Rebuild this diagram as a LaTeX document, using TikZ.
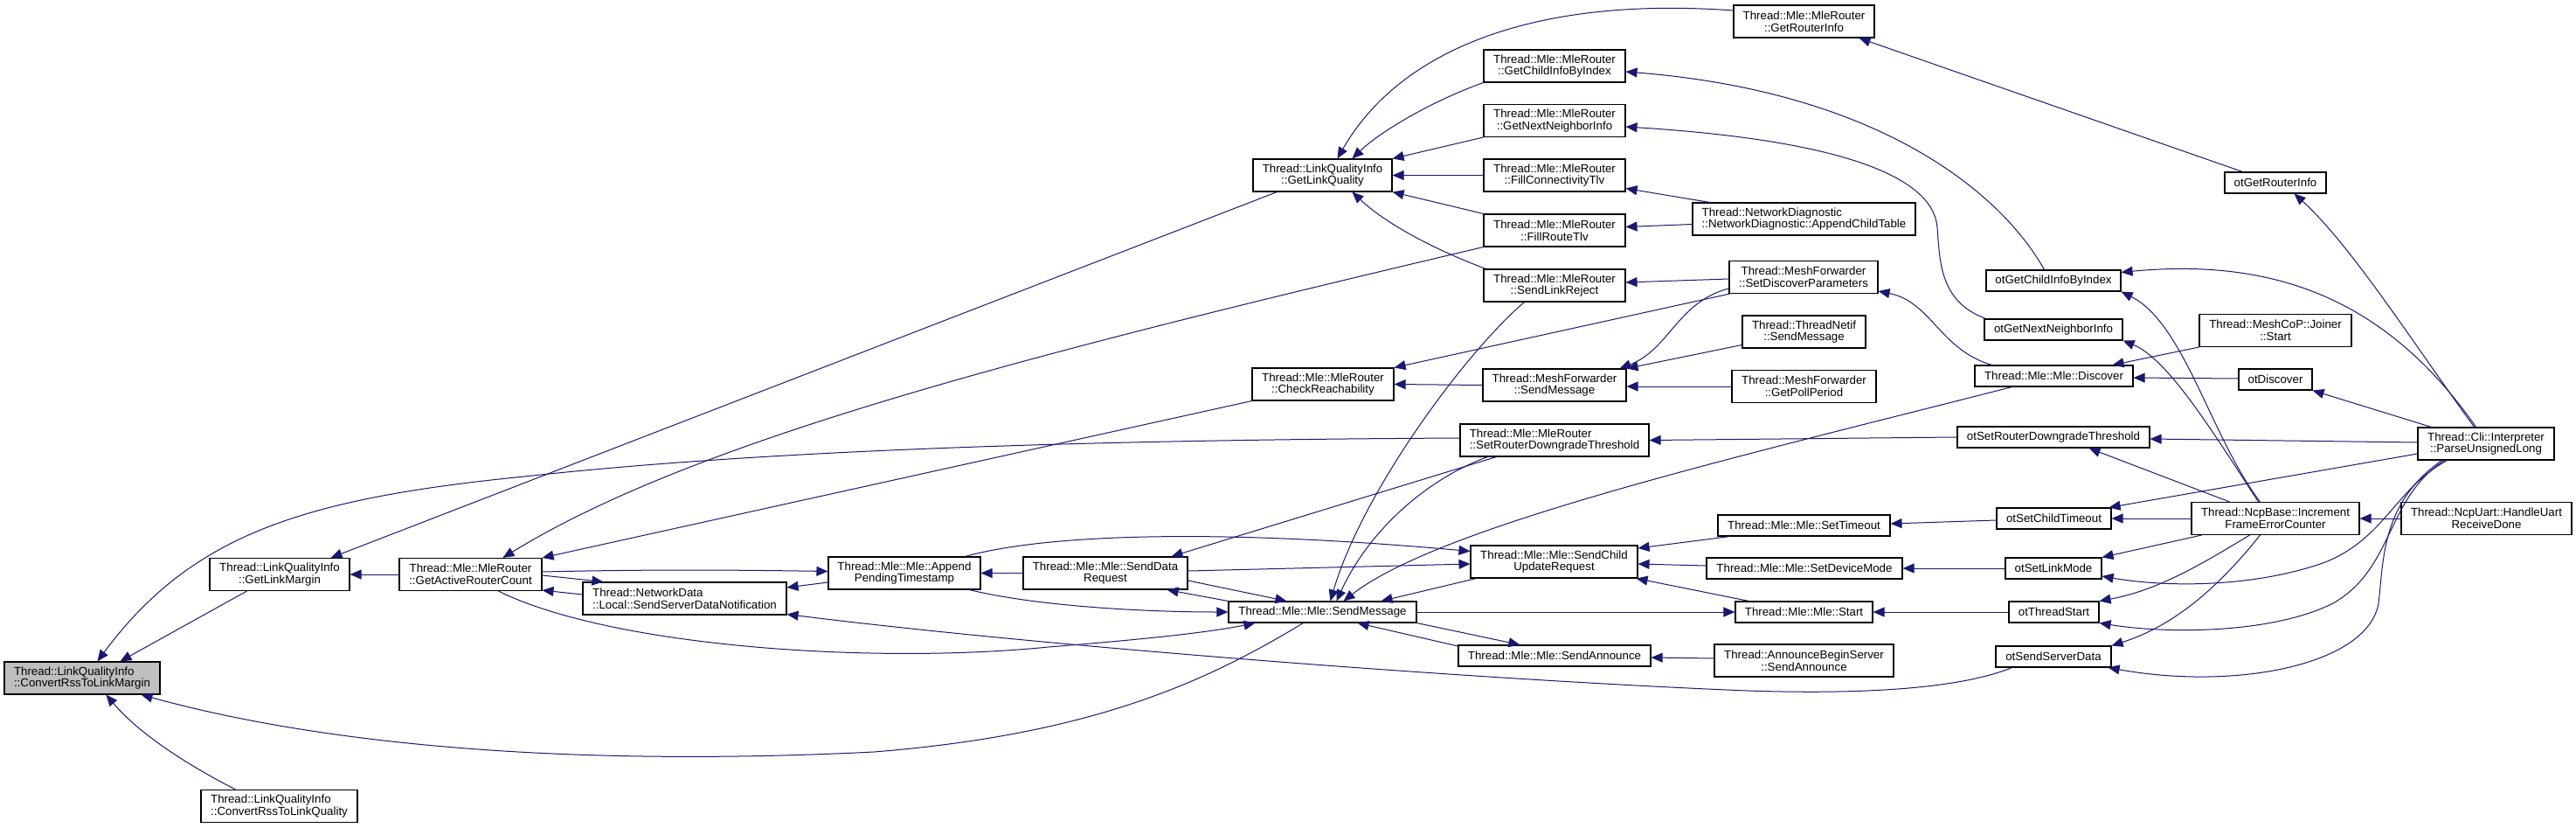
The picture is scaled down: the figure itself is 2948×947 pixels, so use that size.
\documentclass[tikz,border=0pt]{standalone}
\usepackage{fontspec}
\newfontfamily\dgf{Liberation Sans}
\usetikzlibrary{arrows.meta}
\definecolor{edgec}{RGB}{25,25,112}
\definecolor{rootgray}{RGB}{191,191,191}
\tikzset{
  box/.style={draw=black, line width=1.1pt, fill=white, inner sep=0pt,
    font={\dgf\fontsize{13.3pt}{13.6pt}\selectfont}, align=center},
  twol/.style={minimum height=37pt},
  onel/.style={minimum height=24pt},
  edge/.style={draw=edgec, line width=1pt, -{Triangle[length=13pt,width=11pt]}, fill=none}
}
\begin{document}
\begin{tikzpicture}[x=1pt,y=-1pt]
\fill[white] (0,0) rectangle (2948,947);
\path[use as bounding box] (0,0) rectangle (2948,947);

% nodes
\node[box,twol,minimum width=178pt,fill=rootgray,align=left] (conv) at (94,775.5) {Thread::LinkQualityInfo\\::ConvertRssToLinkMargin};
\node[box,twol,minimum width=160pt] (glm) at (320,657) {Thread::LinkQualityInfo\\::GetLinkMargin};
\node[box,twol,minimum width=179pt,align=left] (crq) at (319.5,922) {Thread::LinkQualityInfo\\::ConvertRssToLinkQuality};
\node[box,twol,minimum width=163pt] (garc) at (538.5,657) {Thread::Mle::MleRouter\\::GetActiveRouterCount};
\node[box,twol,minimum width=233pt,align=left] (ssdn) at (783.5,684.5) {Thread::NetworkData\\::Local::SendServerDataNotification};
\node[box,twol,minimum width=174pt] (apt) at (1035,655.5) {Thread::Mle::Mle::Append\\PendingTimestamp};
\node[box,twol,minimum width=188pt] (sdr) at (1265,655.5) {Thread::Mle::Mle::SendData\\Request};
\node[box,onel,minimum width=215pt] (msm) at (1513.5,700) {Thread::Mle::Mle::SendMessage};
\node[box,twol,minimum width=162pt] (chr) at (1514,439.5) {Thread::Mle::MleRouter\\::CheckReachability};
\node[box,twol,minimum width=159pt] (glq) at (1513.5,200.5) {Thread::LinkQualityInfo\\::GetLinkQuality};
\node[box,twol,minimum width=161pt] (gri) at (2064.5,24.5) {Thread::Mle::MleRouter\\::GetRouterInfo};
\node[box,twol,minimum width=162pt] (gcibi) at (1779,75.5) {Thread::Mle::MleRouter\\::GetChildInfoByIndex};
\node[box,twol,minimum width=162pt] (gnni) at (1779,138) {Thread::Mle::MleRouter\\::GetNextNeighborInfo};
\node[box,twol,minimum width=162pt] (fct) at (1779,200.5) {Thread::Mle::MleRouter\\::FillConnectivityTlv};
\node[box,twol,minimum width=162pt] (frt) at (1779,263.5) {Thread::Mle::MleRouter\\::FillRouteTlv};
\node[box,twol,minimum width=162pt] (slr) at (1779,326.5) {Thread::Mle::MleRouter\\::SendLinkReject};
\node[box,twol,minimum width=255pt,align=left] (act) at (2064.5,250.5) {Thread::NetworkDiagnostic\\::NetworkDiagnostic::AppendChildTable};
\node[box,twol,minimum width=170pt] (sdp) at (2064,317) {Thread::MeshForwarder\\::SetDiscoverParameters};
\node[box,twol,minimum width=141pt] (tnsm) at (2064.5,379.5) {Thread::ThreadNetif\\::SendMessage};
\node[box,twol,minimum width=164pt] (mfsm) at (1779,440.5) {Thread::MeshForwarder\\::SendMessage};
\node[box,twol,minimum width=165pt] (gpp) at (2064.5,442) {Thread::MeshForwarder\\::GetPollPeriod};
\node[box,twol,minimum width=216pt,align=left] (srdt) at (1779,503.5) {Thread::Mle::MleRouter\\::SetRouterDowngradeThreshold};
\node[box,twol,minimum width=191pt] (scur) at (1778.5,642.5) {Thread::Mle::Mle::SendChild\\UpdateRequest};
\node[box,onel,minimum width=197pt] (sto) at (2064.5,601) {Thread::Mle::Mle::SetTimeout};
\node[box,onel,minimum width=224pt] (sdm) at (2065,650) {Thread::Mle::Mle::SetDeviceMode};
\node[box,onel,minimum width=157pt] (mst) at (2064.5,700) {Thread::Mle::Mle::Start};
\node[box,onel,minimum width=220pt] (msa) at (1779,750) {Thread::Mle::Mle::SendAnnounce};
\node[box,twol,minimum width=205pt] (abs) at (2064.5,755.5) {Thread::AnnounceBeginServer\\::SendAnnounce};
\node[box,onel,minimum width=116pt] (ogri) at (2604,209) {otGetRouterInfo};
\node[box,onel,minimum width=154pt] (ogcibi) at (2350,321) {otGetChildInfoByIndex};
\node[box,onel,minimum width=158pt] (ognni) at (2350,377) {otGetNextNeighborInfo};
\node[box,onel,minimum width=181pt] (disc) at (2350.5,430) {Thread::Mle::Mle::Discover};
\node[box,twol,minimum width=174pt] (joi) at (2604,378) {Thread::MeshCoP::Joiner\\::Start};
\node[box,onel,minimum width=84pt] (odisc) at (2604,434) {otDiscover};
\node[box,onel,minimum width=220pt] (osrdt) at (2350,500) {otSetRouterDowngradeThreshold};
\node[box,onel,minimum width=131pt] (osct) at (2350.5,593) {otSetChildTimeout};
\node[box,twol,minimum width=192pt] (ncp) at (2604,593) {Thread::NcpBase::Increment\\FrameErrorCounter};
\node[box,onel,minimum width=110pt] (oslm) at (2350,650) {otSetLinkMode};
\node[box,onel,minimum width=103pt] (ots) at (2350.5,700) {otThreadStart};
\node[box,onel,minimum width=132pt] (ossd) at (2350,751) {otSendServerData};
\node[box,twol,minimum width=156pt] (pul) at (2845,507.5) {Thread::Cli::Interpreter\\::ParseUnsignedLong};
\node[box,twol,minimum width=195pt] (nup) at (2845.5,593) {Thread::NcpUart::HandleUart\\ReceiveDone};

% edges (tail = caller, head = callee)
\draw[edge] (garc.west) -- (glm.east);
\draw[edge] ([xshift=43pt]glm.south west) -- ([xshift=133pt]conv.north west);
\draw[edge] ([xshift=40pt]crq.north west) .. controls (215,875) and (160,840) .. ([xshift=117pt]conv.south west);
\draw[edge] ([xshift=86pt]msm.south west) .. controls (1380,780) and (1250,840) .. (1000,860) .. controls (700,875) and (400,860) .. ([xshift=-22pt]conv.south east);
\draw[edge] ([yshift=2.5pt]srdt.west) .. controls (1300,503) and (900,512) .. (600,545) .. controls (350,570) and (220,610) .. ([xshift=107pt]conv.north west);
\draw[edge] ([xshift=28pt]glq.south west) -- ([xshift=-22pt]glm.north east);
\draw[edge] (frt.south west) .. controls (1200,400) and (800,500) .. ([xshift=119pt]garc.north west);
\draw[edge] (chr.south west) -- (garc.north east);
\draw[edge] ([yshift=4.5pt]ssdn.west) -- ([yshift=1pt]garc.south east);
\draw[edge] ([yshift=3pt]garc.east) .. controls (750,651) and (850,652) .. ([yshift=2pt]apt.west);
\draw[edge] ([yshift=-1pt]garc.east) -- ([xshift=24pt]ssdn.north west);
\draw[edge] ([xshift=114pt]garc.south west) .. controls (700,740) and (1000,760) .. (1200,740) .. controls (1300,732) and (1380,724) .. ([xshift=31pt]msm.south west);
\draw[edge] ([yshift=-10.5pt]apt.west) -- ([yshift=12.5pt]ssdn.east);
\draw[edge] ([xshift=19pt]ossd.south west) .. controls (2250,785) and (2150,795) .. (2000,790) .. controls (1700,778) and (1200,740) .. ([yshift=1pt]ssdn.south east);
\draw[edge] (sdr.west) -- (apt.east);
\draw[edge] ([xshift=-18pt]apt.north east) .. controls (1200,610) and (1400,605) .. ([yshift=12pt]scur.west);
\draw[edge] ([xshift=-13pt]apt.south east) .. controls (1180,692) and (1300,700) .. (msm.west);
\draw[edge] ([yshift=2.5pt]sdr.east) -- ([yshift=-2.5pt]scur.west);
\draw[edge] ([yshift=-8.5pt]sdr.east) -- ([xshift=67pt]msm.north west);
\draw[edge] (msm.north west) -- ([xshift=-24pt]sdr.south east);
\draw[edge] ([xshift=42pt]srdt.south west) -- ([xshift=-19pt]sdr.north east);
\draw[edge] ([xshift=32pt]srdt.south west) .. controls (1640,545) and (1570,600) .. ([xshift=124pt]msm.north west);
\draw[edge] ([xshift=47pt]slr.south west) .. controls (1680,400) and (1560,560) .. ([xshift=117pt]msm.north west);
\draw[edge] ([xshift=43pt]disc.south west) .. controls (2000,520) and (1650,600) .. ([xshift=132pt]msm.north west);
\draw[edge] ([xshift=7pt]scur.south west) -- ([xshift=-41pt]msm.north east);
\draw[edge] ([yshift=11pt]msa.west) -- ([xshift=-68pt]msm.south east);
\draw[edge] (msm.south east) -- ([xshift=71pt]msa.north west);
\draw[edge] (msm.east) -- (mst.west);
\draw[edge] ([xshift=14pt]sto.south west) -- ([yshift=15.5pt]scur.east);
\draw[edge] ([yshift=3pt]sdm.west) -- ([yshift=-2.5pt]scur.east);
\draw[edge] ([xshift=16pt]mst.north west) -- ([xshift=-2pt]scur.south east);
\draw[edge] ([yshift=-2pt]osct.west) -- ([yshift=2pt]sto.east);
\draw[edge] (oslm.west) -- (sdm.east);
\draw[edge] (ots.west) -- (mst.east);
\draw[edge] ([yshift=2.5pt]abs.west) -- ([yshift=-2pt]msa.east);
\draw[edge] (osrdt.west) -- (srdt.east);
\draw[edge] ([yshift=12.5pt]gri.west) .. controls (1750,-5) and (1600,60) .. ([xshift=97pt]glq.north west);
\draw[edge] (gcibi.south west) .. controls (1640,115) and (1580,150) .. ([xshift=114pt]glq.north west);
\draw[edge] (gnni.south west) -- (glq.north east);
\draw[edge] (fct.west) -- (glq.east);
\draw[edge] (frt.north west) -- (glq.south east);
\draw[edge] ([xshift=3pt]slr.north west) .. controls (1640,285) and (1585,255) .. ([xshift=114pt]glq.south west);
\draw[edge] ([xshift=20pt]act.north west) -- ([yshift=-15pt]fct.east);
\draw[edge] ([yshift=-6pt]act.west) -- ([yshift=4pt]frt.east);
\draw[edge] ([yshift=-2pt]sdp.west) -- ([yshift=3.5pt]slr.east);
\draw[edge] ([xshift=1pt]sdp.south west) -- (chr.north east);
\draw[edge] ([yshift=-13pt]sdp.west) .. controls (1920,345) and (1910,400) .. ([xshift=-8pt]mfsm.north east);
\draw[edge] ([yshift=-15pt]tnsm.west) -- (mfsm.north east);
\draw[edge] (gpp.west) -- ([yshift=-1.5pt]mfsm.east);
\draw[edge] (mfsm.west) -- (chr.east);
\draw[edge] ([xshift=20pt]disc.north west) .. controls (2220,400) and (2210,345) .. ([yshift=-16pt]sdp.east);
\draw[edge] (joi.south west) -- ([xshift=-24pt]disc.north east);
\draw[edge] ([yshift=1pt]odisc.west) -- ([yshift=-2pt]disc.east);
\draw[edge] ([xshift=21pt]ogri.north west) -- ([xshift=-18pt]gri.south east);
\draw[edge] ([xshift=67pt]ogcibi.north west) .. controls (2290,220) and (2150,105) .. ([yshift=-6.5pt]gcibi.east);
\draw[edge] ([xshift=2pt]ognni.north west) .. controls (2220,345) and (2220,300) .. (2217,260) .. controls (2212,200) and (2100,160) .. ([yshift=-7pt]gnni.east);
\draw[edge] ([xshift=-92pt]pul.north east) .. controls (2760,390) and (2690,280) .. ([xshift=-37pt]ogri.south east);
\draw[edge] ([xshift=-90pt]pul.north east) .. controls (2730,340) and (2600,295) .. ([yshift=-3pt]ogcibi.north east);
\draw[edge] ([xshift=16pt]pul.north west) -- (odisc.south east);
\draw[edge] ([yshift=1.5pt]pul.west) -- ([yshift=-2pt]osrdt.east);
\draw[edge] ([yshift=-11.5pt]pul.west) -- ([xshift=-3pt]osct.north east);
\draw[edge] ([xshift=34pt]pul.south west) .. controls (2740,560) and (2730,615) .. (2661,643) .. controls (2580,672) and (2480,672) .. ([yshift=-9pt]oslm.east);
\draw[edge] ([xshift=31pt]pul.south west) .. controls (2730,570) and (2740,650) .. (2670,690) .. controls (2600,725) and (2480,725) .. (ots.south east);
\draw[edge] ([xshift=28pt]pul.south west) .. controls (2725,575) and (2728,640) .. (2722,690) .. controls (2710,760) and (2560,790) .. ([xshift=-4pt]ossd.south east);
\draw[edge] ([xshift=44pt]ncp.north west) -- ([xshift=-70pt]osrdt.south east);
\draw[edge] (ncp.west) -- (osct.east);
\draw[edge] ([xshift=12pt]ncp.south west) -- (oslm.north east);
\draw[edge] ([xshift=67pt]ncp.south west) .. controls (2520,645) and (2470,675) .. (ots.north east);
\draw[edge] ([xshift=79pt]ncp.south west) .. controls (2540,670) and (2490,715) .. (ossd.north east);
\draw[edge] ([xshift=79pt]ncp.north west) .. controls (2530,500) and (2500,370) .. (ogcibi.south east);
\draw[edge] ([xshift=77pt]ncp.north west) .. controls (2530,490) and (2480,410) .. (ognni.south east);
\draw[edge] (nup.west) -- (ncp.east);
\end{tikzpicture}
\end{document}
